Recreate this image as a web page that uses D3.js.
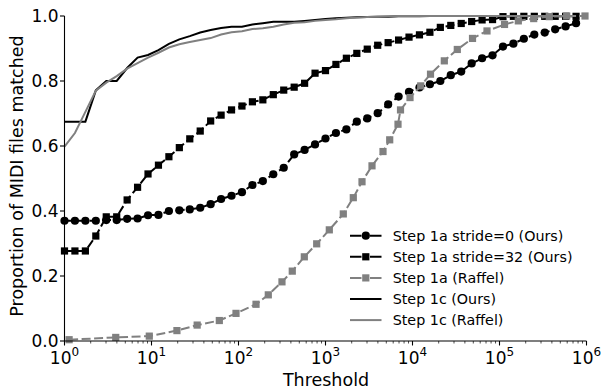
<!DOCTYPE html>
<html>
<head>
<meta charset="utf-8">
<script src="https://cdn.jsdelivr.net/npm/d3@7"></script>
<style>
  html, body { margin: 0; padding: 0; background: #fff; }
  svg { display: block; font-family: "DejaVu Sans", sans-serif; }
</style>
</head>
<body>
<svg id="chart" width="601" height="389"></svg>
<script>
// ---- data ----
// thresholds shared by the "Ours" series (log-spaced grid)
const thresholds = [
  1, 1.318, 1.738, 2.291, 3.020, 3.981, 5.248, 6.918, 9.120, 12.02,
  15.85, 20.89, 27.54, 36.31, 47.86, 63.10, 83.18, 109.6, 144.5, 190.5,
  251.2, 331.1, 436.5, 575.4, 758.6, 1000, 1318, 1738, 2291, 3020,
  3981, 5248, 6918, 9120, 12023, 15849, 20893, 27542, 36308, 47863,
  63096, 83176, 109648, 144544, 190546, 251189, 331131, 436516, 575440, 758578
];
const step1aStride0 = [
  0.370, 0.370, 0.370, 0.370, 0.372, 0.372, 0.376, 0.377, 0.387, 0.388,
  0.400, 0.402, 0.405, 0.410, 0.421, 0.437, 0.447, 0.458, 0.480, 0.492,
  0.513, 0.533, 0.574, 0.588, 0.605, 0.623, 0.640, 0.651, 0.675, 0.685,
  0.701, 0.728, 0.752, 0.767, 0.780, 0.790, 0.800, 0.818, 0.829, 0.854,
  0.870, 0.879, 0.906, 0.915, 0.930, 0.943, 0.949, 0.959, 0.968, 0.978
];
const step1aStride32 = [
  0.277, 0.277, 0.277, 0.323, 0.382, 0.382, 0.434, 0.473, 0.514, 0.541,
  0.567, 0.595, 0.622, 0.646, 0.677, 0.695, 0.711, 0.723, 0.736, 0.742,
  0.758, 0.772, 0.781, 0.793, 0.824, 0.832, 0.851, 0.870, 0.885, 0.898,
  0.910, 0.918, 0.926, 0.935, 0.942, 0.950, 0.965, 0.971, 0.977, 0.983,
  0.988, 0.989, 0.998, 0.999, 0.999, 0.999, 0.999, 0.999, 0.999, 0.999
];
const step1cOurs = [
  0.675, 0.675, 0.675, 0.771, 0.800, 0.800, 0.840, 0.872, 0.880, 0.895,
  0.914, 0.928, 0.938, 0.949, 0.957, 0.963, 0.967, 0.967, 0.974, 0.978,
  0.982, 0.982, 0.982, 0.985, 0.988, 0.991, 0.993, 0.995, 0.996, 0.997,
  0.998, 0.998, 0.999, 0.999, 0.999, 1.000, 1.000, 1.000, 1.000, 1.000,
  1.000, 1.000, 1.000, 1.000, 1.000, 1.000, 1.000, 1.000, 1.000, 1.000
];
const step1cRaffel = [
  0.598, 0.640, 0.705, 0.770, 0.795, 0.815, 0.838, 0.855, 0.872, 0.887,
  0.903, 0.913, 0.920, 0.926, 0.932, 0.943, 0.950, 0.953, 0.960, 0.962,
  0.967, 0.974, 0.979, 0.981, 0.985, 0.988, 0.990, 0.993, 0.995, 0.997,
  0.998, 0.999, 1.000, 1.000, 1.000, 1.000, 1.000, 1.000, 1.000, 1.000,
  1.000, 1.000, 1.000, 1.000, 1.000, 1.000, 1.000, 1.000, 1.000, 1.000
];
// Raffel step 1a has its own thresholds
const raffelThresholds = [
  1.13, 3.88, 9.43, 19.6, 33.5, 60.2, 93.6, 159, 220, 316,
  415, 571, 792, 1106, 1602, 2087, 2628, 3424, 4581, 5470,
  6813, 7280, 9361, 12430, 16105, 23210, 32730, 48950, 71830, 114200,
  164500, 247300, 373400, 591900, 961000
];
const step1aRaffel = [
  0.004, 0.011, 0.015, 0.032, 0.049, 0.063, 0.085, 0.113, 0.142, 0.182,
  0.215, 0.259, 0.299, 0.342, 0.391, 0.441, 0.490, 0.539, 0.583, 0.619,
  0.667, 0.711, 0.749, 0.785, 0.821, 0.862, 0.897, 0.931, 0.954, 0.974,
  0.985, 0.992, 0.998, 1.000, 1.000
];
const xTickExps = [0, 1, 2, 3, 4, 5, 6];
const yTicks = [0.0, 0.2, 0.4, 0.6, 0.8, 1.0];
const legendLabels = [
  "Step 1a stride=0 (Ours)",
  "Step 1a stride=32 (Ours)",
  "Step 1a (Raffel)",
  "Step 1c (Ours)",
  "Step 1c (Raffel)"
];

// ---- chart ----
const svg = d3.select("#chart");
const x = d3.scaleLog().domain([1, 1e6]).range([64.5, 586.5]);
const y = d3.scaleLinear().domain([0, 1]).range([341, 16]);
const GRAY = "#808080";
const DASH = "9,3.5";

const series = [
  { xs: thresholds, ys: step1aStride0, color: "#000", marker: "circle", dash: DASH },
  { xs: thresholds, ys: step1aStride32, color: "#000", marker: "square", dash: DASH },
  { xs: raffelThresholds, ys: step1aRaffel, color: GRAY, marker: "square", dash: DASH },
  { xs: thresholds, ys: step1cOurs, color: "#000", marker: null, dash: null },
  { xs: thresholds, ys: step1cRaffel, color: GRAY, marker: null, dash: null }
];

const line = d3.line().x(d => x(d[0])).y(d => y(d[1]));

const g = svg.append("g");
function drawMarker(sel, type, color, cx, cy) {
  if (type === "circle") {
    sel.append("circle").attr("cx", cx).attr("cy", cy).attr("r", 4.1).attr("fill", color);
  } else if (type === "square") {
    sel.append("rect").attr("x", cx - 3.6).attr("y", cy - 3.6)
      .attr("width", 7.2).attr("height", 7.2).attr("fill", color);
  }
}

series.forEach(s => {
  const pts = s.xs.map((v, i) => [v, s.ys[i]]);
  const sg = g.append("g");
  sg.append("path").datum(pts).attr("d", line)
    .attr("fill", "none").attr("stroke", s.color)
    .attr("stroke-width", 2)
    .attr("stroke-dasharray", s.dash);
  if (s.marker) {
    pts.forEach(p => drawMarker(sg, s.marker, s.color, x(p[0]), y(p[1])));
  }
});

// axes
const xAxis = svg.append("g").attr("transform", "translate(0,341)");
xAxis.append("line").attr("x1", 64.5).attr("x2", 586.5).attr("y1", 0).attr("y2", 0)
  .attr("stroke", "#000").attr("stroke-width", 1.1);
for (let e = 0; e < 6; e++) {
  for (let m = 2; m <= 9; m++) {
    const xv = x(m * Math.pow(10, e));
    xAxis.append("line").attr("x1", xv).attr("x2", xv).attr("y1", 0).attr("y2", 2.5)
      .attr("stroke", "#000").attr("stroke-width", 0.7);
  }
}
xTickExps.forEach(e => {
  const xv = x(Math.pow(10, e));
  xAxis.append("line").attr("x1", xv).attr("x2", xv).attr("y1", 0).attr("y2", 4.5)
    .attr("stroke", "#000").attr("stroke-width", 1.1);
  const t = xAxis.append("text").attr("x", xv).attr("y", 22.5)
    .attr("text-anchor", "middle").attr("font-size", 17).attr("fill", "#000");
  t.append("tspan").text("10");
  t.append("tspan").attr("dy", -7.5).attr("font-size", 12).text(String(e));
});

const yAxis = svg.append("g");
yAxis.append("line").attr("x1", 64.5).attr("x2", 64.5).attr("y1", 16).attr("y2", 341)
  .attr("stroke", "#000").attr("stroke-width", 1.1);
yTicks.forEach(v => {
  const yv = y(v);
  yAxis.append("line").attr("x1", 60).attr("x2", 64.5).attr("y1", yv).attr("y2", yv)
    .attr("stroke", "#000").attr("stroke-width", 1.1);
  yAxis.append("text").attr("x", 58.5).attr("y", yv).attr("dy", "0.36em")
    .attr("text-anchor", "end").attr("font-size", 17).text(v.toFixed(1));
});

svg.append("text").attr("x", 326).attr("y", 386).attr("text-anchor", "middle")
  .attr("font-size", 17.5).text("Threshold");
svg.append("text").attr("transform", "translate(23,176) rotate(-90)")
  .attr("text-anchor", "middle").attr("font-size", 17.5)
  .text("Proportion of MIDI files matched");

// legend
const leg = svg.append("g");
const legY0 = 235.7, legDy = 21.1;
series.forEach((s, i) => {
  const ly = legY0 + i * legDy;
  leg.append("line").attr("x1", 350).attr("x2", 381.5).attr("y1", ly).attr("y2", ly)
    .attr("stroke", s.color).attr("stroke-width", 2)
    .attr("stroke-dasharray", s.dash ? "11.5,8.5,12" : null);
  if (s.marker) drawMarker(leg, s.marker, s.color, 365.8, ly);
  leg.append("text").attr("x", 392.7).attr("y", ly).attr("dy", "0.36em")
    .attr("font-size", 14.3).text(legendLabels[i]);
});
</script>
</body>
</html>
